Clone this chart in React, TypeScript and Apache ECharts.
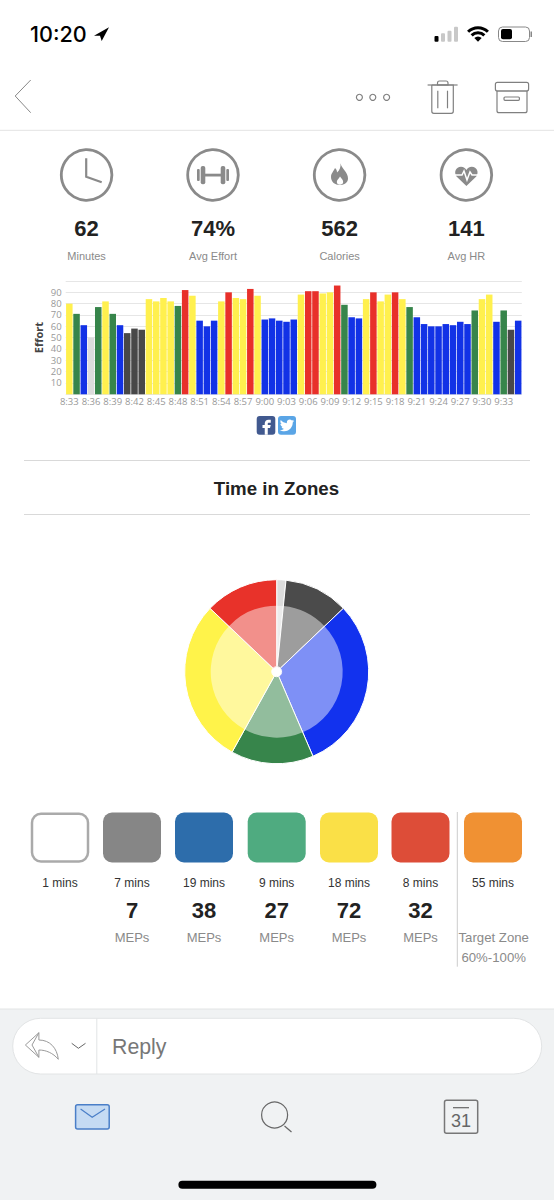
import React, { useEffect, useRef } from "react";
import * as echarts from "echarts";

const times = ["8:33","8:34","8:35","8:36","8:37","8:38","8:39","8:40","8:41","8:42","8:43","8:44","8:45","8:46","8:47","8:48","8:49","8:50","8:51","8:52","8:53","8:54","8:55","8:56","8:57","8:58","8:59","9:00","9:01","9:02","9:03","9:04","9:05","9:06","9:07","9:08","9:09","9:10","9:11","9:12","9:13","9:14","9:15","9:16","9:17","9:18","9:19","9:20","9:21","9:22","9:23","9:24","9:25","9:26","9:27","9:28","9:29","9:30","9:31","9:32","9:33","9:34","9:35"];
const effort = [80,71,61,50,77,82,71,61,54,58,57,84,82,85,82,78,92,87,65,60,65,82,90,85,84,93,87,66,67,65,64,66,88,91,91,89,90,96,79,68,67,84,90,82,88,90,84,77,68,62,60,60,62,61,64,62,74,84,88,64,74,57,65];
const zones = "y g b l g y g b d d d y y y y g r y b b b y r y y r y b b b b b y r r y y r g b b y r y y r y g b b b b b b b b g y y b g d b".split(" ");

const zoneNames = ["Light", "Dark", "Blue", "Green", "Yellow", "Red"];
const zoneMinutes = [1, 7, 19, 9, 18, 8];
const zoneColors = ["#dcdcdc", "#4b4b4b", "#1232ee", "#37854b", "#fff34a", "#e8322a"];
const barColors: Record<string, string> = { y: "#fff04e", g: "#37854b", b: "#1232e6", l: "#dcdcdc", d: "#484848", r: "#e8302a" };

const metricValues = ["62", "74%", "562", "141"];
const metricLabels = ["Minutes", "Avg Effort", "Calories", "Avg HR"];
const metricX = [86.6, 213, 339.6, 466.4];

const swatchX = [31, 103, 175, 247.7, 320, 391.5, 464];
const swatchFill = ["#ffffff", "#868686", "#2d6dab", "#4fab80", "#fae047", "#dd4d38", "#f09133"];
const swatchMins = ["1 mins", "7 mins", "19 mins", "9 mins", "18 mins", "8 mins", "55 mins"];
const swatchMeps = ["", "7", "38", "27", "72", "32", ""];

const FONT = '"Liberation Sans", Arial, sans-serif';

echarts.graphic.registerShape("flameOuter", echarts.graphic.extendPath("M340.5 163.3 C341.5 169 348 172 348 178.5 C348 182.5 344.5 185 340 185 C335 185 331 182 331 177 C331 173 334 171 335 168 C336.5 169 337 171 337 172.5 C339.5 170.5 341 167 340.5 163.3 Z", {}));
echarts.graphic.registerShape("flameInner", echarts.graphic.extendPath("M340 176.5 C341.5 178.5 343.2 180 343.2 182 C343.2 183.7 341.5 184.7 340 184.7 C338.5 184.7 336.8 183.7 336.8 182 C336.8 180 339 178.5 340 176.5 Z", {}));
echarts.graphic.registerShape("heartIcon", echarts.graphic.extendPath("M466.4 186 L456.5 176.5 C453.5 172 456 166.7 461 166.7 C463.5 166.7 465.5 168 466.4 170 C467.3 168 469.3 166.7 471.8 166.7 C476.8 166.7 479.3 172 476.3 176.5 Z", {}));
echarts.graphic.registerShape("fbGlyph", echarts.graphic.extendPath("M14 8h3V4h-3c-3 0-5 2-5 5v2H6v4h3v9h4v-9h3l1-4h-4V9c0-.6.4-1 1-1z", {}));
echarts.graphic.registerShape("birdGlyph", echarts.graphic.extendPath("M24 4.6 C23.1 5 22.2 5.25 21.2 5.35 C22.2 4.75 23 3.8 23.3 2.6 C22.35 3.15 21.3 3.55 20.2 3.8 C19.3 2.85 18 2.25 16.6 2.25 C13.9 2.25 11.7 4.45 11.7 7.15 C11.7 7.55 11.75 7.9 11.85 8.25 C7.7 8.05 4.05 6.1 1.65 3.15 C1.2 3.85 1 4.7 1 5.6 C1 7.3 1.85 8.8 3.15 9.7 C2.35 9.7 1.6 9.45 0.95 9.1 L0.95 9.15 C0.95 11.55 2.65 13.55 4.9 14 C4.5 14.1 4.05 14.15 3.6 14.15 C3.3 14.15 3 14.15 2.7 14.1 C3.35 16.05 5.15 17.5 7.3 17.5 C5.6 18.8 3.5 19.6 1.2 19.6 C0.8 19.6 0.4 19.6 0 19.55 C2.2 20.95 4.75 21.75 7.55 21.75 C16.6 21.75 21.55 14.25 21.55 7.75 L21.55 7.15 C22.5 6.45 23.35 5.6 24 4.6 Z", {}));
echarts.graphic.registerShape("replyIcon", echarts.graphic.extendPath("M25.4 1045 L38.9 1032.7 L38.9 1040 C50 1040 57 1048 58.3 1059.3 C53 1053 46 1050 38.9 1050 L38.9 1057.3 Z M38.9 1032.7 L32 1045 L38.9 1057.3", {}));

const txt = (text: string, x: number, y: number, font: string, fill: string, align = "center") => ({
  type: "text", silent: true, x, y,
  style: { text, font, fill, textAlign: align, textVerticalAlign: "middle" },
});
const rect = (x: number, y: number, width: number, height: number, style: any, r: any = 0) => ({
  type: "rect", silent: true, shape: { x, y, width, height, r }, style,
});
const line = (x1: number, y1: number, x2: number, y2: number, stroke: string, lineWidth = 1) => ({
  type: "line", silent: true, shape: { x1, y1, x2, y2 }, style: { stroke, lineWidth },
});
const poly = (points: number[][], stroke: string, lineWidth = 1) => ({
  type: "polyline", silent: true, shape: { points }, style: { stroke, lineWidth, fill: "none" },
});
const circ = (cx: number, cy: number, r: number, style: any) => ({
  type: "circle", silent: true, shape: { cx, cy, r }, style,
});
const wedge = (r: number, r0: number) => ({
  type: "sector", silent: true,
  shape: { cx: 478, cy: 41.7, r, r0, startAngle: -Math.PI * 0.75, endAngle: -Math.PI * 0.25 },
  style: { fill: "#000" },
});

function chrome(): any[] {
  const g: any[] = [];
  // bottom tray
  g.push(rect(0, 1009, 554, 191, { fill: "#f0f2f3" }));
  g.push(line(0, 1009, 554, 1009, "#e2e4e5"));
  // status bar
  g.push(txt("10:20", 30, 34.3, `500 21.6px Inter, ${FONT}`, "#000", "left"));
  g.push({ type: "polygon", silent: true, shape: { points: [[94, 35.7], [109, 27.3], [101.7, 41], [100, 35.7]] }, style: { fill: "#000" } });
  g.push(rect(434.5, 36, 4, 5.7, { fill: "#000" }, 1));
  g.push(rect(441, 33.3, 4, 8.4, { fill: "#c8c8c8" }, 1));
  g.push(rect(447.5, 30.7, 4, 11, { fill: "#c8c8c8" }, 1));
  g.push(rect(454, 26.7, 4, 15, { fill: "#c8c8c8" }, 1));
  g.push(wedge(15.5, 12.5), wedge(10.5, 7.5), wedge(5.2, 0));
  g.push(rect(498.5, 27, 31, 14.5, { fill: "none", stroke: "#888", lineWidth: 1 }, 4));
  g.push(rect(501, 29, 11, 10.3, { fill: "#000" }, 2));
  g.push(rect(530.5, 31.5, 1.5, 5.5, { fill: "#888" }));
  // nav
  g.push(line(0, 130.3, 554, 130.3, "#e3e3e3"));
  g.push(poly([[30.7, 80], [15.2, 96], [30.7, 112.7]], "#888"));
  [359.4, 372.8, 386.6].forEach((x) => g.push(circ(x, 97.3, 3, { fill: "none", stroke: "#808080", lineWidth: 1.2 })));
  g.push(line(427.6, 85, 457.6, 85, "#808080", 1.2));
  g.push(rect(437.5, 81, 10.5, 4, { fill: "none", stroke: "#808080", lineWidth: 1.2 }, [2, 2, 0, 0]));
  g.push(rect(431.8, 85, 21.5, 28.3, { fill: "none", stroke: "#808080", lineWidth: 1.2 }, [0, 0, 2, 2]));
  g.push(line(437.8, 90.7, 437.8, 108.3, "#808080", 1.2), line(447.5, 90.7, 447.5, 108.3, "#808080", 1.2));
  g.push(rect(495.4, 82.3, 33.2, 8.7, { fill: "none", stroke: "#808080", lineWidth: 1.2 }, 2));
  g.push(rect(497, 91, 30, 21.7, { fill: "none", stroke: "#808080", lineWidth: 1.2 }, [0, 0, 2, 2]));
  g.push(rect(504, 97, 15.4, 3.3, { fill: "none", stroke: "#808080", lineWidth: 1.2 }, 1));
  // metric icons
  metricX.forEach((x, i) => {
    g.push(circ(x, 175, 25.3, { fill: "none", stroke: "#8a8a8a", lineWidth: 2.8 }));
    g.push(txt(metricValues[i], x, 228.5, `bold 22px ${FONT}`, "#222"));
    g.push(txt(metricLabels[i], x, 256, `11px ${FONT}`, "#8a8a8a"));
  });
  g.push(poly([[86.2, 158.3], [86.2, 176.7], [101.7, 182.3]], "#8a8a8a", 2.2));
  const iconGrey = { fill: "#8a8a8a" };
  g.push(rect(205, 173.7, 16, 2.8, iconGrey));
  g.push(rect(200.7, 166, 4.6, 18.3, iconGrey, 2), rect(220.7, 166, 4.6, 18.3, iconGrey, 2));
  g.push(rect(197, 169, 2.7, 12, iconGrey, 1), rect(226.3, 169, 2.7, 12, iconGrey, 1));
  g.push({ type: "flameOuter", silent: true, style: iconGrey });
  g.push({ type: "flameInner", silent: true, style: { fill: "#fff" } });
  g.push({ type: "heartIcon", silent: true, style: iconGrey });
  g.push(poly([[454, 175], [462, 175], [464, 171], [467, 180], [470, 172], [472, 175], [479, 175]], "#fff", 1.5));
  // social
  g.push(rect(256.7, 416, 18.6, 18.7, { fill: "#41598f" }, 3));
  g.push({ type: "fbGlyph", silent: true, x: 258, y: 416.7, scaleX: 0.75, scaleY: 0.75, style: { fill: "#fff" } });
  g.push(rect(278, 416, 18, 18.7, { fill: "#5aa5e6" }, 3));
  g.push({ type: "birdGlyph", silent: true, x: 279.8, y: 418.2, scaleX: 0.6, scaleY: 0.6, style: { fill: "#fff" } });
  // section header
  g.push(line(24, 460.5, 530, 460.5, "#d9d9d9"), line(24, 514.5, 530, 514.5, "#d9d9d9"));
  g.push(txt("Time in Zones", 276.5, 488.5, `bold 18.7px ${FONT}`, "#222"));
  // swatches
  swatchX.forEach((x, i) => {
    const w = 58;
    g.push(rect(i === 0 ? x + 1 : x, i === 0 ? 813.7 : 812.5, i === 0 ? w - 2 : w, i === 0 ? 47.8 : 50, i === 0 ? { fill: "#fff", stroke: "#aaaaaa", lineWidth: 2.5 } : { fill: swatchFill[i] }, 9));
    g.push(txt(swatchMins[i], x + 29, 882.7, `12px ${FONT}`, "#333"));
    if (swatchMeps[i]) {
      g.push(txt(swatchMeps[i], x + 29, 910, `bold 22px ${FONT}`, "#222"));
      g.push(txt("MEPs", x + 29, 937.3, `13px ${FONT}`, "#8a8a8a"));
    }
  });
  g.push(line(457.3, 812, 457.3, 966.7, "#cccccc"));
  g.push(txt("Target Zone", 493.7, 937.3, `13.2px ${FONT}`, "#8a8a8a"));
  g.push(txt("60%-100%", 493.7, 957.3, `13.2px ${FONT}`, "#8a8a8a"));
  // reply pill
  g.push(rect(12.7, 1018.3, 529, 55.7, { fill: "#fff", stroke: "#e2e4e5", lineWidth: 1 }, 28));
  g.push(line(96.8, 1018.3, 96.8, 1074, "#e2e4e5"));
  g.push({ type: "replyIcon", silent: true, style: { fill: "none", stroke: "#9a9a9a", lineWidth: 1 } });
  g.push(poly([[71.7, 1043.3], [78.4, 1048.3], [85.5, 1043.3]], "#666"));
  g.push(txt("Reply", 112, 1046.5, `21.3px ${FONT}`, "#777", "left"));
  // tab bar
  g.push(rect(75.6, 1104.7, 33.6, 24.3, { fill: "#c5dbf3", stroke: "#4a7fc8", lineWidth: 1.5 }, 2));
  g.push(poly([[80.6, 1109], [92.2, 1117.3], [105, 1109]], "#4a7fc8", 1.2));
  g.push(circ(274.6, 1115, 13, { fill: "none", stroke: "#666", lineWidth: 1.2 }));
  g.push(line(284.5, 1126, 291.5, 1132, "#666", 1.2));
  g.push(rect(444.5, 1100.3, 33.2, 33, { fill: "none", stroke: "#777", lineWidth: 1.5 }, 2));
  g.push(line(453, 1107.7, 469, 1107.7, "#666", 1.2));
  g.push(txt("31", 461, 1120.5, `18px ${FONT}`, "#666"));
  g.push(rect(178.4, 1180.7, 198, 8, { fill: "#000" }, 4));
  return g;
}

export default function App() {
  const ref = useRef<HTMLDivElement>(null);
  useEffect(() => {
    const chart = echarts.init(ref.current!, undefined, { renderer: "svg" });
    const pieBase = {
      type: "pie", center: [276.7, 671.7], startAngle: 90, clockwise: true, silent: true,
      label: { show: false }, labelLine: { show: false }, minAngle: 0,
    };
    chart.setOption({
      animation: false,
      backgroundColor: "#fff",
      textStyle: { fontFamily: FONT },
      grid: { left: 65.7, width: 456.1, top: 281, height: 113.3, containLabel: false },
      xAxis: {
        type: "category", data: times,
        axisLine: { show: false }, axisTick: { show: false },
        axisLabel: { interval: 2, margin: 2, color: "#999", fontFamily: '"Open Sans"', fontSize: 9.5, hideOverlap: false },
      },
      yAxis: {
        type: "value", min: 0, max: 100, interval: 10,
        name: "Effort", nameLocation: "middle", nameGap: 22, nameMoveOverlap: false,
        nameTextStyle: { color: "#444", fontFamily: '"Open Sans"', fontSize: 11, fontWeight: "bold" },
        axisLine: { show: false }, axisTick: { show: false },
        axisLabel: {
          margin: 4, color: "#999", fontFamily: '"Open Sans"', fontSize: 9.5, lineHeight: 10,
          formatter: (v: number) => (v === 0 || v === 100 ? "" : String(v)),
        },
        splitLine: { lineStyle: { color: "#e6e6e6", width: 1 } },
      },
      series: [
        {
          type: "bar", barCategoryGap: "10%", silent: true,
          data: effort.map((value, i) => ({ value, itemStyle: { color: barColors[zones[i]] } })),
        },
        {
          ...pieBase, radius: [5, 92],
          itemStyle: { borderColor: "#fff", borderWidth: 1 },
          data: zoneMinutes.map((value, i) => ({ value, name: zoneNames[i], itemStyle: { color: zoneColors[i] } })),
        },
        {
          ...pieBase, radius: [5, 66], z: 3,
          itemStyle: { color: "rgba(255,255,255,0.46)", borderWidth: 0 },
          data: zoneMinutes.map((value, i) => ({ value, name: zoneNames[i] })),
        },
      ],
      graphic: { elements: chrome() },
    });
    return () => chart.dispose();
  }, []);
  return <div ref={ref} style={{ position: "absolute", left: 0, top: 0, width: 554, height: 1200 }} />;
}
